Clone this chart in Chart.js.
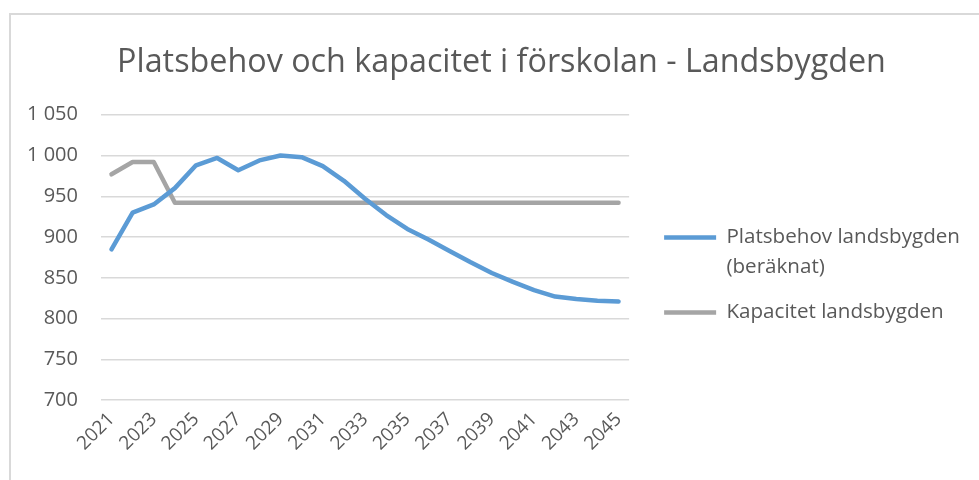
<!DOCTYPE html>
<html>
<head>
<meta charset="utf-8">
<script src="https://cdn.jsdelivr.net/npm/chart.js@4/dist/chart.umd.min.js"></script>
<style>
  html, body { margin: 0; padding: 0; background: #fff; }
  #wrap { position: relative; width: 979px; height: 480px; overflow: hidden; }
  #frame { position: absolute; left: 9px; top: 13px; width: 1000px; height: 500px;
           border-left: 2px solid #d9d9d9; border-top: 2px solid #d9d9d9; box-sizing: border-box; }
  canvas { position: absolute; left: 0; top: 0; }
</style>
</head>
<body>
<div id="wrap">
  <div id="frame"></div>
  <canvas id="c" width="979" height="480"></canvas>
</div>
<script>
const titleText = 'Platsbehov och kapacitet i förskolan - Landsbygden';
const years = ['2021','2022','2023','2024','2025','2026','2027','2028','2029','2030',
               '2031','2032','2033','2034','2035','2036','2037','2038','2039','2040',
               '2041','2042','2043','2044','2045'];
const behovLabel = ['Platsbehov landsbygden', '(beräknat)'];
const behov = [885, 930, 940, 960, 988, 997, 982, 994, 1000, 998,
               987, 969, 947, 927, 910, 897, 883, 869, 856, 845,
               835, 827, 824, 822, 821];
const kapacitetLabel = 'Kapacitet landsbygden';
const kapacitet = [977, 992, 992, 942, 942, 942, 942, 942, 942, 942,
                   942, 942, 942, 942, 942, 942, 942, 942, 942, 942,
                   942, 942, 942, 942, 942];
const yMin = 700, yMax = 1050, yStep = 50;

function fmtThousands(v) {
  const s = String(Math.round(v));
  return s.replace(/\B(?=(\d{3})+(?!\d))/g, ' ');
}

const FONT = "'Open Sans', 'Noto Sans', sans-serif";
const TXT = '#595959';

// shift the title box so it is centred over the whole chart frame
const titleShift = {
  id: 'titleShift',
  afterLayout(chart) {
    const t = chart.titleBlock;
    if (t) { t.left += 14.5; t.right += 14.5; }
  }
};

new Chart(document.getElementById('c'), {
  type: 'line',
  data: {
    labels: years,
    datasets: [
      { label: behovLabel, data: behov, borderColor: '#5B9BD5', backgroundColor: '#5B9BD5',
        borderWidth: 4.5, pointRadius: 0, pointStyle: 'line', borderCapStyle: 'round',
        borderJoinStyle: 'round', tension: 0 },
      { label: kapacitetLabel, data: kapacitet, borderColor: '#A5A5A5', backgroundColor: '#A5A5A5',
        borderWidth: 4.5, pointRadius: 0, pointStyle: 'line', borderCapStyle: 'round',
        borderJoinStyle: 'round', tension: 0 }
    ]
  },
  plugins: [titleShift],
  options: {
    responsive: false,
    animation: false,
    devicePixelRatio: 1,
    layout: { padding: { left: 4, right: 9, top: 25, bottom: 17 } },
    plugins: {
      title: {
        display: true, text: titleText, color: TXT,
        font: { family: FONT, size: 32.3, weight: 'normal' },
        padding: { top: 18, bottom: 33 }
      },
      legend: {
        position: 'right',
        maxWidth: 500,
        title: { display: true, text: ' ', font: { size: 10, lineHeight: 1 }, padding: { top: 26, bottom: 26 } },
        labels: {
          usePointStyle: true, pointStyle: 'line', pointStyleWidth: 52,
          color: TXT, padding: 16,
          font: { family: FONT, size: 20.6, lineHeight: 1.43 }
        }
      },
      tooltip: { enabled: false }
    },
    scales: {
      x: {
        offset: true,
        grid: { display: false, drawTicks: false },
        border: { display: false },
        afterFit: s => { s.paddingLeft = 0; s.paddingRight = 0; },
        ticks: {
          autoSkip: false, maxRotation: 45, minRotation: 45, padding: 8,
          color: TXT, font: { family: FONT, size: 19 },
          callback: function(val, i) { return i % 2 === 0 ? this.getLabelForValue(val) : ''; }
        }
      },
      y: {
        min: yMin, max: yMax,
        grid: { color: '#d9d9d9', lineWidth: 1.5, drawTicks: false },
        border: { display: false },
        ticks: {
          stepSize: yStep, padding: 23, color: TXT,
          font: { family: FONT, size: 20 },
          callback: v => fmtThousands(v)
        }
      },
      yR: {
        position: 'right', min: 0, max: 1,
        grid: { display: false, drawTicks: false },
        border: { display: false },
        ticks: { display: false },
        afterFit: s => { s.width = 19; }
      }
    }
  }
});
</script>
</body>
</html>
